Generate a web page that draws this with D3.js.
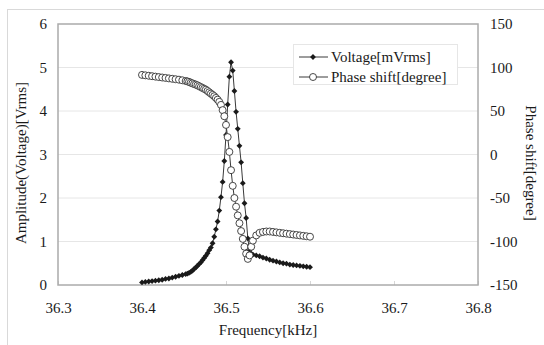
<!DOCTYPE html>
<html>
<head>
<meta charset="utf-8">
<script src="https://cdn.jsdelivr.net/npm/d3@7"></script>
<style>
  body { margin: 0; background: #fff; }
  svg text { font-family: "Liberation Serif", "Times New Roman", serif !important; fill: #1a1a1a; }
</style>
</head>
<body>
<div id="root"></div>
<script>
// frequency sweep [kHz]
var freq = [
  36.400, 36.404, 36.408, 36.412, 36.416, 36.420, 36.424, 36.428, 36.432, 36.436,
  36.440, 36.444, 36.448, 36.452,
  36.454, 36.456, 36.458, 36.460, 36.462, 36.464, 36.466, 36.468, 36.470, 36.472,
  36.474, 36.476, 36.478, 36.480, 36.482, 36.484, 36.486, 36.488, 36.490, 36.492,
  36.494, 36.496, 36.498, 36.500, 36.502, 36.504, 36.506, 36.508, 36.510, 36.512,
  36.514, 36.516, 36.518, 36.520, 36.522, 36.524, 36.526, 36.528, 36.530, 36.532,
  36.536, 36.540, 36.544, 36.548, 36.552, 36.556, 36.560, 36.564, 36.568, 36.572,
  36.576, 36.580, 36.584, 36.588, 36.592, 36.596, 36.600
];
// amplitude (left axis)
var voltage = [
  0.06, 0.07, 0.08, 0.09, 0.10, 0.11, 0.12, 0.14, 0.15, 0.17,
  0.19, 0.21, 0.23, 0.25,
  0.26, 0.28, 0.30, 0.33, 0.37, 0.40, 0.44, 0.48, 0.52, 0.57,
  0.62, 0.67, 0.73, 0.80, 0.86, 0.96, 1.11, 1.28, 1.46, 1.71,
  2.02, 2.37, 2.85, 3.45, 4.15, 4.79, 5.12, 4.93, 4.46, 3.98,
  3.59, 3.20, 2.82, 2.34, 1.88, 1.54, 1.07, 0.80, 0.72, 0.70,
  0.68, 0.66, 0.63, 0.61, 0.58, 0.56, 0.54, 0.52, 0.50, 0.49,
  0.47, 0.46, 0.45, 0.44, 0.43, 0.42, 0.41
];
// phase shift (right axis)
var phase = [
  91.5, 91, 90.5, 90, 89.5, 89, 88.5, 88, 87.5, 87,
  86.5, 86, 85.3, 84.5,
  84, 83.5, 82.5, 81.8, 81, 80.3, 79.5, 78.5, 77.5, 76.5,
  75.5, 74.5, 73, 71.5, 70, 68.5, 67, 65, 63, 60.5,
  57, 51, 44, 34, 20, 3, -18, -36, -50, -60,
  -70, -79, -88, -97, -106, -114, -120, -116, -106, -99,
  -93, -90, -89, -88.5, -88.5, -89, -89.5, -90, -90.5, -91,
  -91.5, -92, -92.5, -93, -93.5, -94, -94.5
];

var xTicks = [36.3, 36.4, 36.5, 36.6, 36.7, 36.8];
var leftTicks = [0, 1, 2, 3, 4, 5, 6];
var rightTicks = [-150, -100, -50, 0, 50, 100, 150];
var seriesNames = ["Voltage[mVrms]", "Phase shift[degree]"];

var W = 544, H = 345;
var plot = { left: 58, top: 24, right: 478, bottom: 285 };
var serif = "Liberation Serif";

var svg = d3.select("#root").append("svg")
  .attr("width", W).attr("height", H)
  .attr("font-family", serif);

// chart area border
svg.append("rect")
  .attr("x", 7.5).attr("y", 9.5)
  .attr("width", 600).attr("height", 400)
  .attr("fill", "#fff").attr("stroke", "#d9d9d9");

var x = d3.scaleLinear().domain([36.3, 36.8]).range([plot.left, plot.right]);
var yL = d3.scaleLinear().domain([0, 6]).range([plot.bottom, plot.top]);
var yR = d3.scaleLinear().domain([-150, 150]).range([plot.bottom, plot.top]);

// gridlines
svg.append("g").selectAll("line")
  .data(leftTicks.slice(1, -1))
  .enter().append("line")
  .attr("x1", plot.left).attr("x2", plot.right)
  .attr("y1", d => yL(d)).attr("y2", d => yL(d))
  .attr("stroke", "#e6e6e6").attr("stroke-width", 1);

// axes
var gx = svg.append("g")
  .attr("transform", "translate(0," + plot.bottom + ")")
  .call(d3.axisBottom(x).tickValues(xTicks).tickFormat(d3.format(".1f"))
    .tickSize(-4).tickPadding(17));
var gl = svg.append("g")
  .attr("transform", "translate(" + plot.left + ",0)")
  .call(d3.axisLeft(yL).tickValues(leftTicks).tickFormat(d3.format("d"))
    .tickSize(0).tickPadding(11));
var gr = svg.append("g")
  .attr("transform", "translate(" + plot.right + ",0)")
  .call(d3.axisRight(yR).tickValues(rightTicks).tickFormat(d => d < 0 ? "-" + Math.abs(d) : d)
    .tickSize(0).tickPadding(12));

[gx, gl, gr].forEach(function (g) {
  g.attr("font-family", serif).attr("font-size", 15);
  g.select(".domain").remove();
  g.selectAll(".tick line").attr("stroke", "#d6d6d6");
  g.selectAll("text").attr("font-family", serif).attr("font-size", 15).attr("fill", "#1a1a1a");
});

// plot frame
svg.append("rect")
  .attr("x", plot.left).attr("y", plot.top)
  .attr("width", plot.right - plot.left).attr("height", plot.bottom - plot.top)
  .attr("fill", "none").attr("stroke", "#ababab").attr("stroke-width", 1.5);

// axis titles
svg.append("text")
  .attr("x", (plot.left + plot.right) / 2).attr("y", 335)
  .attr("text-anchor", "middle").attr("font-size", 15)
  .text("Frequency[kHz]");
svg.append("text")
  .attr("transform", "translate(26,163) rotate(-90)")
  .attr("text-anchor", "middle").attr("font-size", 15)
  .text("Amplitude(Voltage)[Vrms]");
svg.append("text")
  .attr("transform", "translate(526,163) rotate(90)")
  .attr("text-anchor", "middle").attr("font-size", 15)
  .text("Phase shift[degree]");

var vData = freq.map((f, i) => ({ f: f, v: voltage[i] }));
var pData = freq.map((f, i) => ({ f: f, v: phase[i] }));

// Excel style diamond: a square turned 45 degrees
var diamond = d3.symbol().type(d3.symbolSquare).size(17);

// voltage series
svg.append("path")
  .datum(vData)
  .attr("fill", "none").attr("stroke", "#3a3a3a").attr("stroke-width", 1)
  .attr("d", d3.line().x(d => x(d.f)).y(d => yL(d.v)));
svg.append("g").selectAll("path")
  .data(vData)
  .enter().append("path")
  .attr("transform", d => "translate(" + x(d.f) + "," + yL(d.v) + ") rotate(45)")
  .attr("d", diamond)
  .attr("fill", "#1a1a1a");

// phase series
svg.append("path")
  .datum(pData)
  .attr("fill", "none").attr("stroke", "#3a3a3a").attr("stroke-width", 1)
  .attr("d", d3.line().x(d => x(d.f)).y(d => yR(d.v)));
svg.append("g").selectAll("circle")
  .data(pData)
  .enter().append("circle")
  .attr("cx", d => x(d.f)).attr("cy", d => yR(d.v))
  .attr("r", 3.5)
  .attr("fill", "#fff").attr("stroke", "#333").attr("stroke-width", 0.9);

// legend
var lg = svg.append("g");
lg.append("rect")
  .attr("x", 293.5).attr("y", 44.5).attr("width", 164).attr("height", 40)
  .attr("fill", "#fff").attr("stroke", "#e6e6e6");
seriesNames.forEach(function (name, i) {
  var cy = 57 + i * 20;
  lg.append("line")
    .attr("x1", 299).attr("x2", 328).attr("y1", cy).attr("y2", cy)
    .attr("stroke", "#3a3a3a").attr("stroke-width", 1);
  if (i === 0) {
    lg.append("path").attr("transform", "translate(313," + cy + ") rotate(45)")
      .attr("d", diamond).attr("fill", "#1a1a1a");
  } else {
    lg.append("circle").attr("cx", 313).attr("cy", cy).attr("r", 3.5)
      .attr("fill", "#fff").attr("stroke", "#333").attr("stroke-width", 0.9);
  }
  lg.append("text")
    .attr("x", 331).attr("y", cy + 5)
    .attr("font-size", 15)
    .text(name);
});
</script>
</body>
</html>
